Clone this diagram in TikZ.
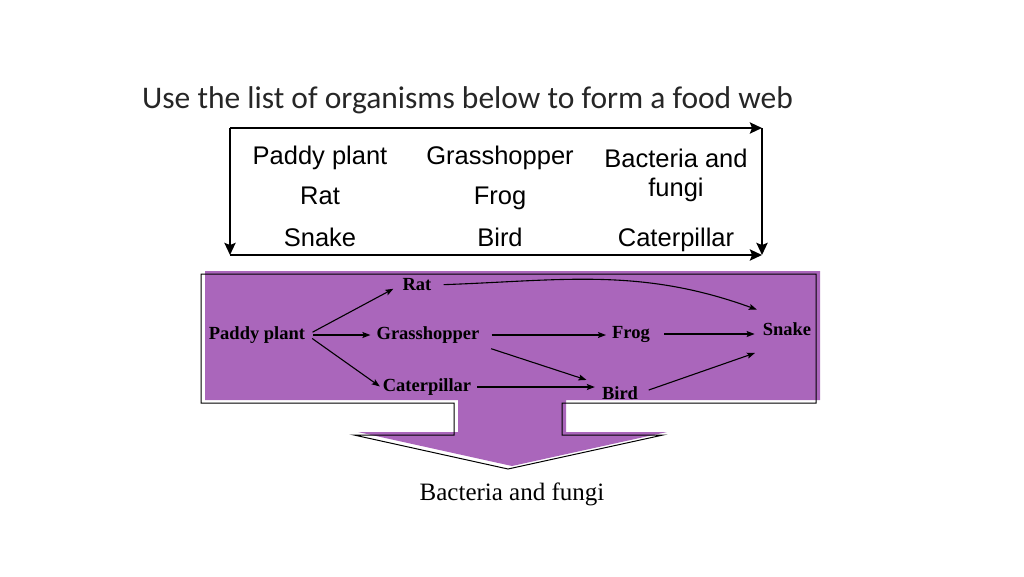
\documentclass[tikz,border=0pt]{standalone}
\usepackage{fontspec}
\usetikzlibrary{arrows.meta}
\setmainfont{Liberation Serif}
\newfontfamily\titlefont{Carlito}
\newfontfamily\listfont{Liberation Sans}
\definecolor{webpurple}{RGB}{170,102,187}

\begin{document}
\begin{tikzpicture}[x=1pt, y=-1pt,
        titletext/.style={font=\titlefont\fontsize{31.5}{36}\selectfont, text=black!85, inner sep=0pt},
        listname/.style={font=\listfont\fontsize{25.5}{29}\selectfont, align=center, inner sep=0pt, anchor=base},
        organism/.style={font=\bfseries\fontsize{18.5}{20}\selectfont, inner sep=2pt},
        boxarrow/.style={-{Stealth[length=12pt, width=11pt, inset=2pt]}, line width=2.5pt},
        arrow/.style={-{Stealth[length=8pt, width=6pt, inset=1.5pt]}, line width=1.1pt, shorten <=6pt, shorten >=4pt}
    ]
    \useasboundingbox (0,0) rectangle (1024,576);

    % Title
    \node[titletext, anchor=base west] (title) at (142,108) {Use the list of organisms below to form a food web};

    % List of organisms
    \coordinate (boxtl) at (230,128);
    \coordinate (boxtr) at (762,128);
    \coordinate (boxbl) at (230,255);
    \coordinate (boxbr) at (762,255);
    \draw[boxarrow] (boxtl) -- (boxtr);
    \draw[boxarrow] (boxtr) -- (boxbr);
    \draw[boxarrow] (boxtl) -- (boxbl);
    \draw[boxarrow] (boxbl) -- (boxbr);

    \node[listname] (list-paddy) at (320,164) {Paddy plant};
    \node[listname] (list-rat) at (320,204) {Rat};
    \node[listname] (list-snake) at (320,246) {Snake};
    \node[listname] (list-grass) at (500,164) {Grasshopper};
    \node[listname] (list-frog) at (500,204) {Frog};
    \node[listname] (list-bird) at (500,246) {Bird};
    \node[listname] (list-decomp) at (676,196) {Bacteria and\\fungi};
    \node[listname] (list-cat) at (676,246) {Caterpillar};

    % Purple arrow shape
    \fill[webpurple] (205,271) -- (820,271) -- (820,400) -- (566,400) -- (566,432) -- (667,432)
        -- (512,466) -- (358,432) -- (458,432) -- (458,400) -- (205,400) -- cycle;
    \draw[shift={(-4,3)}, line width=1pt] (205,271) -- (820,271) -- (820,400) -- (566,400) -- (566,432) -- (667,432)
        -- (512,466) -- (358,432) -- (458,432) -- (458,400) -- (205,400) -- cycle;

    % Food web
    \node[organism] (paddy) at (257,335) {Paddy plant};
    \node[organism] (rat) at (417,285) {Rat};
    \node[organism] (grass) at (428,335) {Grasshopper};
    \node[organism] (frog) at (631,334) {Frog};
    \node[organism] (snake) at (787,329) {Snake};
    \node[organism] (cat) at (427,387) {Caterpillar};
    \node[organism] (bird) at (620,393) {Bird};

    \node[font=\fontsize{25}{28}\selectfont] (decomp) at (512,494) {Bacteria and fungi};

    % Arrows
    \draw[arrow, shorten >=8pt] (paddy.east) -- (rat.west);
    \draw[arrow] (paddy.east) -- (grass.west);
    \draw[arrow, shorten >=1pt] (paddy.east) -- (cat.west);
    \draw[arrow, shorten <=10pt] (rat.east) to[out=2, in=160] ([yshift=18pt]snake.west);
    \draw[arrow, shorten <=10pt] (grass.east) -- (grass.east -| frog.west);
    \draw[arrow, shorten <=10pt, shorten >=14pt] (grass.south east) -- (bird.north west);
    \draw[arrow, shorten <=12pt, shorten >=6pt] (frog.east) -- (frog.east -| snake.west);
    \draw[arrow, shorten <=4pt, shorten >=5pt] (cat.east) -- (cat.east -| bird.west);
    \draw[arrow, shorten <=9pt, shorten >=6pt] (bird.east) -- ([yshift=-22pt]snake.west);

\end{tikzpicture}
\end{document}
